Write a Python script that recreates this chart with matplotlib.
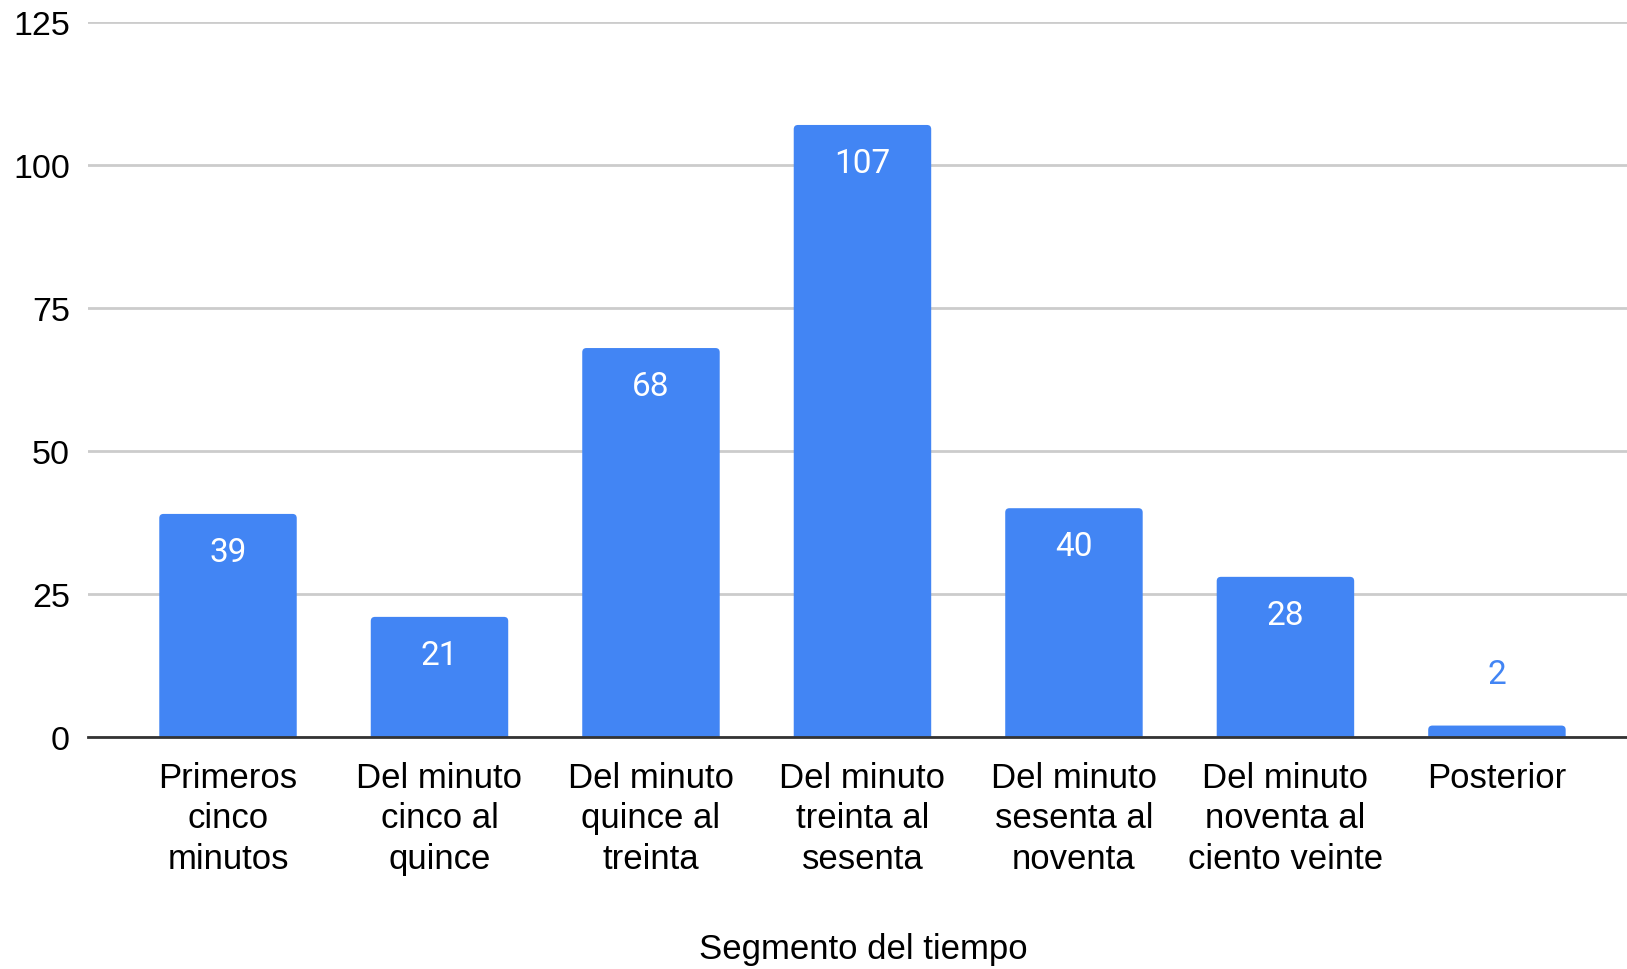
import matplotlib
matplotlib.use('Agg')
import matplotlib.pyplot as plt
from matplotlib.patches import FancyBboxPatch

categorias = ["Primeros\ncinco\nminutos", "Del minuto\ncinco al\nquince",
              "Del minuto\nquince al\ntreinta", "Del minuto\ntreinta al\nsesenta",
              "Del minuto\nsesenta al\nnoventa", "Del minuto\nnoventa al\nciento veinte",
              "Posterior"]
valores = [39, 21, 68, 107, 40, 28, 2]
yticks = [0, 25, 50, 75, 100, 125]

azul = '#4285F4'
W, H = 1627, 970

fig = plt.figure(figsize=(W / 100, H / 100), dpi=100)
ax = fig.add_axes([88 / W, 1 - 738 / H, (W - 88) / W, (738 - 23) / H])

x = list(range(len(valores)))
barras = ax.bar(x, valores, width=0.65, color=azul, zorder=3)

# esquinas redondeadas arriba (la parte de abajo queda recortada bajo el eje)
for r in barras:
    x0, w, h = r.get_x(), r.get_width(), r.get_height()
    r.remove()
    ax.add_patch(FancyBboxPatch((x0, -2), w, h + 2,
                                boxstyle="round,pad=0,rounding_size=0.02",
                                mutation_aspect=37, color=azul, lw=0, zorder=3))

# etiquetas de valor: dentro de la barra en blanco, encima si no cabe
for xi, v in zip(x, valores):
    if v > 10:
        ax.annotate(str(v), (xi, v), xytext=(0, -38), textcoords='offset pixels',
                    ha='center', va='center', color='white', fontsize=24,
                    family='Roboto', zorder=4)
    else:
        ax.annotate(str(v), (xi, v), xytext=(0, 52), textcoords='offset pixels',
                    ha='center', va='center', color=azul, fontsize=24,
                    family='Roboto', zorder=4)

ax.set_xlim(-0.662, 6.615)
ax.set_ylim(0, 125)
ax.set_yticks(yticks)
ax.set_yticklabels([str(t) for t in yticks], fontsize=24.5, family='Liberation Sans')
ax.set_xticks(x)
ax.set_xticklabels(categorias, fontsize=25, family='Liberation Sans', linespacing=1.3)
ax.tick_params(axis='both', length=0)
ax.tick_params(axis='y', pad=13)
ax.tick_params(axis='x', pad=17)

ax.grid(axis='y', color='#cccccc', linewidth=2, zorder=0)
for s in ['top', 'right', 'left']:
    ax.spines[s].set_visible(False)
ax.spines['bottom'].set_color('#333333')
ax.spines['bottom'].set_linewidth(2)
ax.spines['bottom'].set_zorder(5)

fig.text(863 / W, 1 - 950 / H, "Segmento del tiempo", ha='center', va='center',
         fontsize=25, family='Liberation Sans')

fig.savefig('out.png', dpi=100)
